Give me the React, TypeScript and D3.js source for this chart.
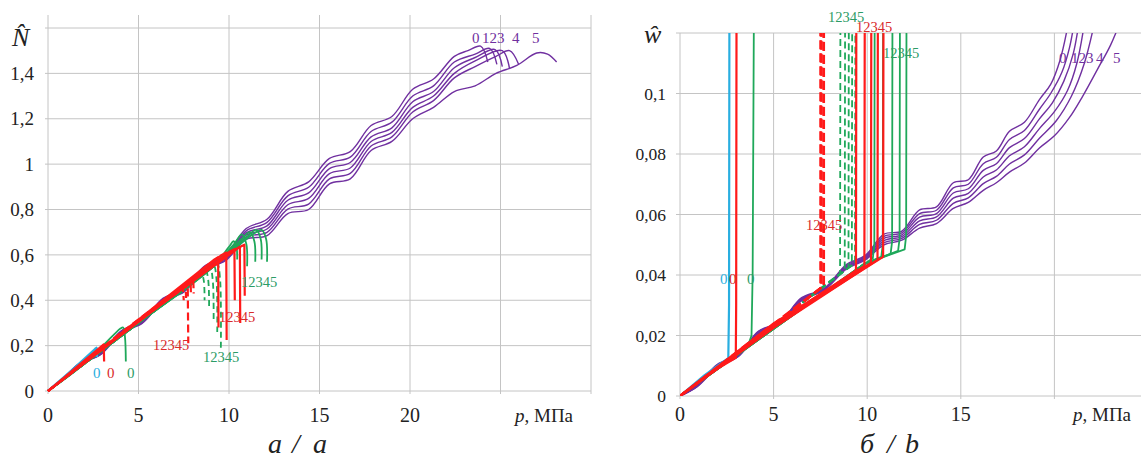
import React from "react";
import * as d3 from "d3";

type Pt = [number, number];

// ---------- axes ----------
const xGridA = [0, 5, 10, 15, 20, 25, 30];
const xTickA = [0, 5, 10, 15, 20];
const yGridA = [0, 0.2, 0.4, 0.6, 0.8, 1, 1.2, 1.4, 1.6];
const yTickA = [0, 0.2, 0.4, 0.6, 0.8, 1, 1.2, 1.4];

const xGridB = [0, 5, 10, 15, 20];
const xTickB = [0, 5, 10, 15];
const yGridB = [0, 0.02, 0.04, 0.06, 0.08, 0.1, 0.12];
const yTickB = [0, 0.02, 0.04, 0.06, 0.08, 0.1];

// ---------- chart a: N vs p ----------
const purpleN0: Pt[] = [[0,0],[0.6,0.037],[1.75,0.123],[2.9,0.166],[4.05,0.265],[5.2,0.309],[6.35,0.408],[7.5,0.451],[8.65,0.551],[9.8,0.596],[10.95,0.716],[12.1,0.757],[13.25,0.88],[14.4,0.922],[15.55,1.025],[16.7,1.055],[17.85,1.17],[19.0,1.21],[20.15,1.33],[21.3,1.375],[22.45,1.475],[23.2,1.5],[23.9,1.52],[24.3,1.45]];
const purpleN1: Pt[] = [[0,0],[0.6,0.037],[1.75,0.122],[2.9,0.165],[4.05,0.263],[5.2,0.307],[6.35,0.405],[7.5,0.448],[8.65,0.547],[9.8,0.592],[10.95,0.706],[12.1,0.743],[13.25,0.86],[14.4,0.898],[15.55,1.003],[16.7,1.031],[17.85,1.144],[19.0,1.185],[20.15,1.3],[21.3,1.345],[22.45,1.45],[23.6,1.485],[24.4,1.51],[24.8,1.44]];
const purpleN2: Pt[] = [[0,0],[0.6,0.037],[1.75,0.121],[2.9,0.164],[4.05,0.262],[5.2,0.305],[6.35,0.403],[7.5,0.445],[8.65,0.544],[9.8,0.587],[10.95,0.697],[12.1,0.728],[13.25,0.841],[14.4,0.873],[15.55,0.98],[16.7,1.007],[17.85,1.12],[19.0,1.16],[20.15,1.275],[21.3,1.32],[22.45,1.425],[23.6,1.47],[24.7,1.505],[25.1,1.43]];
const purpleN3: Pt[] = [[0,0],[0.6,0.036],[1.75,0.121],[2.9,0.162],[4.05,0.26],[5.2,0.302],[6.35,0.4],[7.5,0.442],[8.65,0.54],[9.8,0.583],[10.95,0.687],[12.1,0.714],[13.25,0.821],[14.4,0.849],[15.55,0.958],[16.7,0.983],[17.85,1.1],[19.0,1.14],[20.15,1.25],[21.3,1.3],[22.45,1.4],[23.6,1.455],[25.1,1.5],[25.5,1.42]];
const purpleN4: Pt[] = [[0,0],[0.6,0.036],[1.75,0.12],[2.9,0.161],[4.05,0.259],[5.2,0.3],[6.35,0.398],[7.5,0.439],[8.65,0.537],[9.8,0.578],[10.95,0.678],[12.1,0.699],[13.25,0.802],[14.4,0.824],[15.55,0.935],[16.7,0.959],[17.85,1.08],[19.0,1.12],[20.15,1.23],[21.3,1.28],[22.45,1.38],[23.6,1.43],[24.75,1.475],[25.5,1.5],[26.0,1.44]];
const purpleN5: Pt[] = [[0,0],[0.6,0.036],[1.75,0.119],[2.9,0.16],[4.05,0.257],[5.2,0.298],[6.35,0.395],[7.5,0.436],[8.65,0.533],[9.8,0.574],[10.95,0.668],[12.1,0.685],[13.25,0.782],[14.4,0.8],[15.55,0.913],[16.7,0.935],[17.85,1.06],[19.0,1.1],[20.15,1.2],[21.3,1.25],[22.45,1.32],[23.6,1.345],[24.75,1.4],[25.9,1.435],[27.0,1.49],[27.6,1.485],[28.1,1.45]];

const cyanN0: Pt[] = [[0,0],[1.3,0.09],[2.6,0.185],[2.68,0.19],[2.7,0.15]];
const redN0: Pt[] = [[0,0],[1.5,0.1],[3.0,0.2],[3.08,0.205],[3.1,0.13]];
const greenN0: Pt[] = [[0,0],[2,0.12],[3.6,0.245],[4.0,0.275],[4.15,0.28],[4.25,0.24],[4.3,0.13]];

const redDashN1: Pt[] = [[0,0],[4,0.255],[7.3,0.455],[7.45,0.46],[7.5,0.40]];
const redDashN2: Pt[] = [[0,0],[4,0.25],[7.45,0.46],[7.6,0.465],[7.63,0.41]];
const redDashN3: Pt[] = [[0,0],[4,0.245],[7.55,0.465],[7.72,0.47],[7.75,0.21]];
const redDashN4: Pt[] = [[0,0],[4,0.252],[7.7,0.47],[7.88,0.475],[7.9,0.42]];
const redDashN5: Pt[] = [[0,0],[4,0.248],[7.85,0.475],[8.03,0.48],[8.05,0.43]];

const greenDashN1: Pt[] = [[0,0],[5,0.3],[8.2,0.5],[8.45,0.525],[8.6,0.49],[8.65,0.40]];
const greenDashN2: Pt[] = [[0,0],[5,0.3],[8.4,0.51],[8.7,0.535],[8.85,0.49],[8.9,0.36]];
const greenDashN3: Pt[] = [[0,0],[5,0.3],[8.6,0.52],[8.95,0.545],[9.1,0.49],[9.15,0.30]];
const greenDashN4: Pt[] = [[0,0],[5,0.3],[8.8,0.53],[9.15,0.555],[9.3,0.5],[9.35,0.26]];
const greenDashN5: Pt[] = [[0,0],[5,0.3],[9.0,0.54],[9.35,0.56],[9.5,0.5],[9.55,0.19]];

const redN1: Pt[] = [[0,0],[5,0.315],[9.2,0.58],[9.4,0.59],[9.42,0.28]];
const redN2: Pt[] = [[0,0],[5,0.31],[9.6,0.6],[9.85,0.61],[9.87,0.225]];
const redN3: Pt[] = [[0,0],[5,0.305],[10.05,0.615],[10.3,0.625],[10.32,0.40]];
const redN4: Pt[] = [[0,0],[5,0.312],[10.35,0.625],[10.6,0.635],[10.62,0.30]];
const redN5: Pt[] = [[0,0],[5,0.308],[10.6,0.635],[10.85,0.645],[10.87,0.42]];

const greenN1: Pt[] = [[0,0],[5,0.3],[9,0.54],[10.0,0.635],[10.25,0.66],[10.42,0.63],[10.45,0.58]];
const greenN2: Pt[] = [[0,0],[5,0.3],[9,0.54],[10.3,0.65],[10.7,0.69],[10.95,0.65],[11.0,0.55]];
const greenN3: Pt[] = [[0,0],[5,0.3],[9,0.54],[10.7,0.67],[11.15,0.70],[11.4,0.66],[11.45,0.57]];
const greenN4: Pt[] = [[0,0],[5,0.3],[9,0.54],[11.0,0.68],[11.5,0.71],[11.75,0.67],[11.8,0.58]];
const greenN5: Pt[] = [[0,0],[5,0.3],[9,0.54],[11.3,0.69],[11.8,0.71],[12.05,0.67],[12.1,0.57]];

// ---------- chart b: w vs p ----------
const purpleW0: Pt[] = [[0,0],[0.9,0.0035],[2.0,0.0105],[3.1,0.0135],[4.2,0.0215],[5.35,0.0245],[6.5,0.0325],[7.7,0.0355],[8.9,0.0435],[9.9,0.0465],[10.9,0.0535],[11.85,0.0545],[12.8,0.0615],[13.7,0.0625],[14.6,0.0705],[15.4,0.0715],[16.2,0.079],[16.9,0.081],[17.6,0.0875],[18.4,0.0905],[19.2,0.098],[19.8,0.103],[20.3,0.111],[20.8,0.125]];
const purpleW1: Pt[] = [[0,0],[0.9,0.0034],[2.0,0.0103],[3.1,0.0134],[4.2,0.0213],[5.35,0.0244],[6.5,0.0323],[7.7,0.0354],[8.9,0.0432],[9.9,0.0462],[10.9,0.0528],[11.85,0.0539],[12.8,0.0603],[13.7,0.0614],[14.6,0.0688],[15.4,0.07],[16.2,0.0768],[16.9,0.0789],[17.6,0.0848],[18.4,0.0878],[19.2,0.0948],[19.8,0.1],[20.4,0.107],[20.8,0.115],[21.1,0.125]];
const purpleW2: Pt[] = [[0,0],[0.9,0.0033],[2.0,0.0101],[3.1,0.0133],[4.2,0.0211],[5.35,0.0243],[6.5,0.0321],[7.7,0.0353],[8.9,0.0429],[9.9,0.0459],[10.9,0.0521],[11.85,0.0533],[12.8,0.0591],[13.7,0.0603],[14.6,0.0671],[15.4,0.0685],[16.2,0.0746],[16.9,0.0768],[17.6,0.0821],[18.4,0.0851],[19.2,0.0916],[19.9,0.097],[20.5,0.104],[21.0,0.113],[21.35,0.125]];
const purpleW3: Pt[] = [[0,0],[0.9,0.0032],[2.0,0.0099],[3.1,0.0132],[4.2,0.0209],[5.35,0.0242],[6.5,0.0319],[7.7,0.0352],[8.9,0.0426],[9.9,0.0456],[10.9,0.0514],[11.85,0.0527],[12.8,0.0579],[13.7,0.0592],[14.6,0.0654],[15.4,0.067],[16.2,0.0724],[16.9,0.0747],[17.6,0.0794],[18.4,0.0824],[19.2,0.0884],[20.0,0.094],[20.7,0.101],[21.2,0.11],[21.65,0.125]];
const purpleW4: Pt[] = [[0,0],[0.9,0.0031],[2.0,0.0097],[3.1,0.0131],[4.2,0.0207],[5.35,0.0241],[6.5,0.0317],[7.7,0.0351],[8.9,0.0423],[9.9,0.0453],[10.9,0.0507],[11.85,0.0521],[12.8,0.0567],[13.7,0.0581],[14.6,0.0637],[15.4,0.0655],[16.2,0.0702],[16.9,0.0726],[17.6,0.0767],[18.4,0.0797],[19.2,0.0852],[20.1,0.091],[20.9,0.099],[21.6,0.11],[22.2,0.125]];
const purpleW5: Pt[] = [[0,0],[0.9,0.003],[2.0,0.0095],[3.1,0.013],[4.2,0.0205],[5.35,0.024],[6.5,0.0315],[7.7,0.035],[8.9,0.042],[9.9,0.045],[10.9,0.05],[11.85,0.0515],[12.8,0.0555],[13.7,0.057],[14.6,0.062],[15.4,0.064],[16.2,0.068],[16.9,0.0705],[17.6,0.074],[18.4,0.077],[19.2,0.082],[20.0,0.086],[20.8,0.092],[21.5,0.099],[22.3,0.108],[23.0,0.116],[23.6,0.125]];

const cyanW0: Pt[] = [[0,0],[1.3,0.0068],[2.58,0.0125],[2.62,0.03],[2.64,0.13]];
const redW0: Pt[] = [[0,0],[1.5,0.0072],[2.98,0.0126],[3.0,0.03],[3.02,0.13]];
const greenW0: Pt[] = [[0,0],[3.0,0.0135],[3.6,0.016],[3.82,0.02],[3.88,0.04],[3.95,0.13]];

const redDashW1: Pt[] = [[0,0],[3.5,0.0162],[7.5,0.0357],[7.5,0.13]];
const redDashW2: Pt[] = [[0,0],[3.5,0.0168],[7.53,0.0358],[7.53,0.13]];
const redDashW3: Pt[] = [[0,0],[3.5,0.0158],[7.56,0.0359],[7.56,0.13]];
const redDashW4: Pt[] = [[0,0],[3.5,0.0165],[7.66,0.0363],[7.66,0.13]];
const redDashW5: Pt[] = [[0,0],[3.5,0.016],[7.69,0.0365],[7.69,0.13]];

const greenDashW1: Pt[] = [[0,0],[8.55,0.0405],[8.57,0.13]];
const greenDashW2: Pt[] = [[0,0],[8.8,0.0415],[8.82,0.13]];
const greenDashW3: Pt[] = [[0,0],[9.0,0.0425],[9.02,0.13]];
const greenDashW4: Pt[] = [[0,0],[9.18,0.0432],[9.2,0.13]];
const greenDashW5: Pt[] = [[0,0],[9.35,0.044],[9.37,0.13]];

const redW1: Pt[] = [[0,0],[5,0.0235],[9.4,0.0415],[9.42,0.13]];
const redW2: Pt[] = [[0,0],[5,0.0228],[9.85,0.043],[9.87,0.13]];
const redW3: Pt[] = [[0,0],[5,0.024],[10.2,0.044],[10.22,0.13]];
const redW4: Pt[] = [[0,0],[5,0.0225],[10.55,0.045],[10.57,0.13]];
const redW5: Pt[] = [[0,0],[5,0.0232],[10.85,0.046],[10.87,0.13]];

const greenW1: Pt[] = [[0,0],[9.8,0.0435],[10.3,0.0455],[10.38,0.05],[10.4,0.13]];
const greenW2: Pt[] = [[0,0],[9.8,0.0435],[10.75,0.046],[10.83,0.05],[10.85,0.13]];
const greenW3: Pt[] = [[0,0],[9.8,0.0435],[11.25,0.047],[11.33,0.051],[11.35,0.13]];
const greenW4: Pt[] = [[0,0],[9.8,0.0435],[11.65,0.048],[11.73,0.052],[11.75,0.13]];
const greenW5: Pt[] = [[0,0],[9.8,0.0435],[12.0,0.0485],[12.08,0.053],[12.1,0.13]];

// ---------- captions ----------
const captionA = ["а", "/", "a"];
const captionB = ["б", "/", "b"];

// ---------- styles ----------
const PURPLE = "#7030a0";
const RED = "#ff1a1a";
const GREEN = "#1fa85a";
const CYAN = "#29aee0";
const GRID = "#c4c4c4";
const SERIF = "Liberation Serif, Times New Roman, Tinos, DejaVu Serif, serif";

type Series = { data: Pt[]; color: string; w: number; dash?: string; smooth?: boolean };

const seriesA: Series[] = [
  ...[purpleN0, purpleN1, purpleN2, purpleN3, purpleN4, purpleN5].map((d) => ({ data: d, color: PURPLE, w: 1.4, smooth: true })),
  ...[greenN1, greenN2, greenN3, greenN4, greenN5].map((d) => ({ data: d, color: GREEN, w: 1.8, smooth: true })),
  ...[greenDashN1, greenDashN2, greenDashN3, greenDashN4, greenDashN5].map((d) => ({ data: d, color: GREEN, w: 1.8, dash: "6,4", smooth: true })),
  { data: greenN0, color: GREEN, w: 1.8, smooth: true },
  { data: cyanN0, color: CYAN, w: 2.4 },
  ...[redDashN1, redDashN2, redDashN3, redDashN4, redDashN5].map((d) => ({ data: d, color: RED, w: 2.2, dash: "8,4" })),
  ...[redN1, redN2, redN3, redN4, redN5].map((d) => ({ data: d, color: RED, w: 2.2 })),
  { data: redN0, color: RED, w: 2.2 },
];

const seriesB: Series[] = [
  ...[purpleW0, purpleW1, purpleW2, purpleW3, purpleW4, purpleW5].map((d) => ({ data: d, color: PURPLE, w: 1.4, smooth: true })),
  ...[greenW1, greenW2, greenW3, greenW4, greenW5].map((d) => ({ data: d, color: GREEN, w: 1.8 })),
  ...[greenDashW1, greenDashW2, greenDashW3, greenDashW4, greenDashW5].map((d) => ({ data: d, color: GREEN, w: 1.8, dash: "7,4" })),
  { data: greenW0, color: GREEN, w: 1.8 },
  { data: cyanW0, color: CYAN, w: 2.2 },
  ...[redDashW1, redDashW2, redDashW3, redDashW4, redDashW5].map((d) => ({ data: d, color: RED, w: 2.2, dash: "9,4" })),
  ...[redW1, redW2, redW3, redW4, redW5].map((d) => ({ data: d, color: RED, w: 2.2 })),
  { data: redW0, color: RED, w: 2.2 },
];

const fmt = (v: number) => String(+v.toFixed(2)).replace(".", ",");

export default function App() {
  const xA = d3.scaleLinear().domain([0, 30]).range([48, 591]);
  const yA = d3.scaleLinear().domain([0, 1.6]).range([391, 28]);
  const xB = d3.scaleLinear().domain([0, 25]).range([680, 1148]);
  const yB = d3.scaleLinear().domain([0, 0.12]).range([396, 33]);

  const mk = (x: d3.ScaleLinear<number, number>, y: d3.ScaleLinear<number, number>, smooth?: boolean) =>
    d3
      .line<Pt>()
      .x((d) => x(d[0]))
      .y((d) => y(d[1]))
      .curve(smooth ? d3.curveCatmullRom.alpha(0.5) : d3.curveLinear);

  const txt = { fontFamily: SERIF } as React.CSSProperties;

  const lbl = (x: number, y: number, t: string, color: string, size = 14.5) => (
    <text x={x} y={y} fill={color} fontSize={size} style={txt}>
      {t}
    </text>
  );

  const capXA = [268, 292, 313];
  const capXB = [860, 887, 905];

  return (
    <svg width={1141} height={461} style={{ display: "block", position: "absolute", left: 0, top: 0, background: "#fff" }}>
      <defs>
        <clipPath id="clipB">
          <rect x={680} y={33} width={470} height={363} />
        </clipPath>
      </defs>
      <rect x={0} y={0} width={1141} height={461} fill="#fff" />

      {/* ===== Chart a ===== */}
      {yGridA.map((v) => (
        <line key={"ha" + v} x1={45} x2={xA(30)} y1={yA(v)} y2={yA(v)} stroke={GRID} strokeWidth={1} />
      ))}
      {xGridA.map((v) => (
        <line key={"va" + v} x1={xA(v)} x2={xA(v)} y1={15} y2={394} stroke={GRID} strokeWidth={1} />
      ))}
      {yTickA.map((v) => (
        <text key={"ya" + v} x={34} y={yA(v)} dy="0.35em" textAnchor="end" fontSize={19} fill="#222" style={txt}>
          {fmt(v)}
        </text>
      ))}
      {xTickA.map((v) => (
        <text key={"xa" + v} x={xA(v)} y={422} textAnchor="middle" fontSize={20} fill="#222" style={txt}>
          {v}
        </text>
      ))}
      <text x={515} y={422} fontSize={19} fill="#222" style={txt}>
        <tspan fontStyle="italic">p</tspan>, МПа
      </text>
      <text x={12} y={46} fontSize={26} fontStyle="italic" fill="#222" style={txt}>
        {"N\u0302"}
      </text>

      <g fill="none" strokeLinejoin="round">
        {seriesA.map((s, i) => (
          <path key={"sa" + i} d={mk(xA, yA, s.smooth)(s.data) || ""} stroke={s.color} strokeWidth={s.w} strokeDasharray={s.dash} />
        ))}
      </g>

      {lbl(472, 43, "0", PURPLE, 15)}
      {lbl(482, 43, "123", PURPLE, 15)}
      {lbl(512, 43, "4", PURPLE, 15)}
      {lbl(532, 43, "5", PURPLE, 15)}
      {lbl(93, 378, "0", CYAN, 15)}
      {lbl(107, 378, "0", "#d92b2b", 15)}
      {lbl(127, 378, "0", "#2c9c66", 15)}
      {lbl(153, 350, "12345", "#d92b2b")}
      {lbl(203, 362, "12345", "#2c9c66")}
      {lbl(219, 322, "12345", "#d92b2b")}
      {lbl(241, 287, "12345", "#2c9c66")}

      {captionA.map((c, i) => (
        <text key={"ca" + i} x={capXA[i]} y={453} fontSize={28} fontStyle="italic" fill="#222" style={txt}>
          {c}
        </text>
      ))}

      {/* ===== Chart b ===== */}
      {yGridB.map((v) => (
        <line key={"hb" + v} x1={676} x2={1141} y1={yB(v)} y2={yB(v)} stroke={GRID} strokeWidth={1} />
      ))}
      {xGridB.map((v) => (
        <line key={"vb" + v} x1={xB(v)} x2={xB(v)} y1={33} y2={399} stroke={GRID} strokeWidth={1} />
      ))}
      {yTickB.map((v) => (
        <text key={"yb" + v} x={666} y={yB(v)} dy="0.35em" textAnchor="end" fontSize={17.5} fill="#222" style={txt}>
          {fmt(v)}
        </text>
      ))}
      {xTickB.map((v) => (
        <text key={"xb" + v} x={xB(v)} y={421} textAnchor="middle" fontSize={20} fill="#222" style={txt}>
          {v}
        </text>
      ))}
      <text x={1073} y={421} fontSize={19} fill="#222" style={txt}>
        <tspan fontStyle="italic">p</tspan>, МПа
      </text>
      <text x={644} y={43} fontSize={26} fontStyle="italic" fill="#222" style={txt}>
        {"w\u0302"}
      </text>

      <g fill="none" strokeLinejoin="round" clipPath="url(#clipB)">
        {seriesB.map((s, i) => (
          <path key={"sb" + i} d={mk(xB, yB, s.smooth)(s.data) || ""} stroke={s.color} strokeWidth={s.w} strokeDasharray={s.dash} />
        ))}
      </g>

      {lbl(1059, 63, "0", PURPLE, 15)}
      {lbl(1071, 63, "123", PURPLE, 15)}
      {lbl(1096, 63, "4", PURPLE, 15)}
      {lbl(1113, 63, "5", PURPLE, 15)}
      {lbl(720, 284, "0", CYAN, 15)}
      {lbl(729, 284, "0", "#d92b2b", 15)}
      {lbl(747, 284, "0", "#2c9c66", 15)}
      {lbl(828, 22, "12345", "#2c9c66")}
      {lbl(856, 32, "12345", "#d92b2b")}
      {lbl(883, 58, "12345", "#2c9c66")}
      {lbl(806, 230, "12345", "#d92b2b")}

      {captionB.map((c, i) => (
        <text key={"cb" + i} x={capXB[i]} y={453} fontSize={28} fontStyle="italic" fill="#222" style={txt}>
          {c}
        </text>
      ))}
    </svg>
  );
}
